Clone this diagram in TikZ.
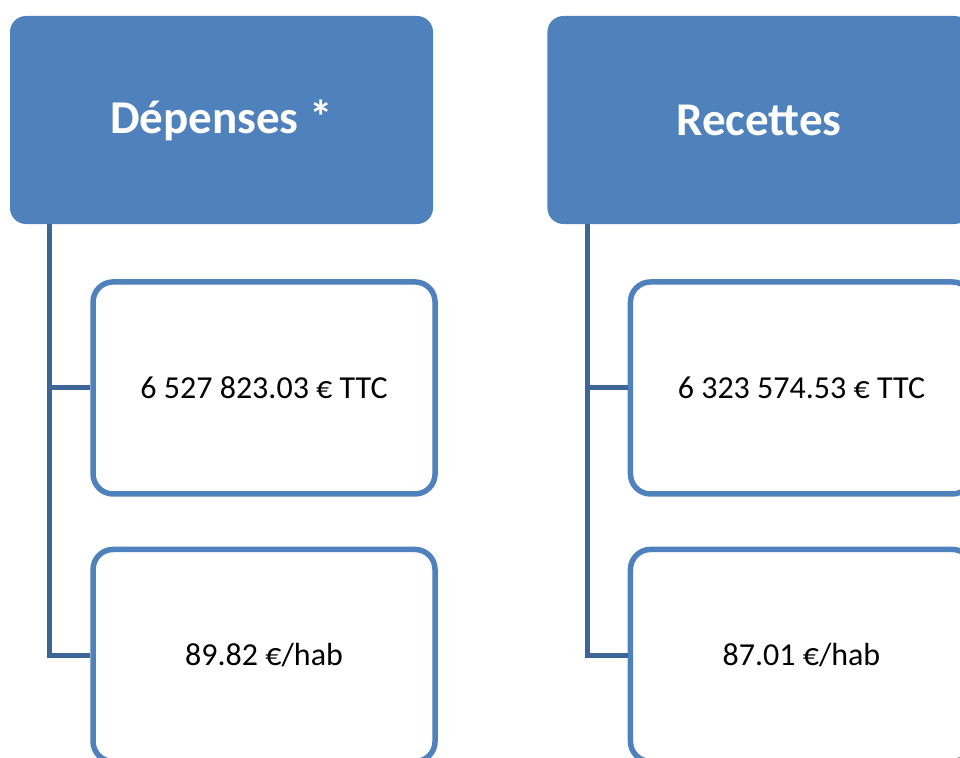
\documentclass[tikz,border=0pt]{standalone}
\usepackage{fontspec}
\setmainfont{Carlito}
\usetikzlibrary{positioning}
\definecolor{headblue}{RGB}{79,129,189}
\definecolor{linkblue}{RGB}{62,101,151}
\tikzstyle{head}=[rectangle, rounded corners=16pt, fill=headblue, text=white, minimum width=423pt, minimum height=208pt, font=\fontsize{47}{56}\selectfont\bfseries]
\tikzstyle{item}=[rectangle, rounded corners=20pt, draw=headblue, line width=5.5pt, fill=white, minimum width=342pt, minimum height=212pt, font=\fontsize{32}{38}\selectfont]
\tikzstyle{link}=[draw=linkblue, line width=5pt]

\begin{document}
\begin{tikzpicture}[x=1pt, y=-1pt]
  \useasboundingbox (0,0) rectangle (960,757);
  \node[head] (dep) at (221.5,120) {Dépenses *};
  \node[head] (rec) [right=114pt of dep] {Recettes};
  \coordinate (dep-c) at ([xshift=40pt]dep.south west);
  \coordinate (rec-c) at ([xshift=40pt]rec.south west);
  \node[item] (dep-ttc) [below right=55pt and 80.5pt of dep.south west] {6 527 823.03 € TTC};
  \node[item] (dep-hab) [below=50pt of dep-ttc] {89.82 €/hab};
  \node[item] (rec-ttc) [below right=55pt and 80.5pt of rec.south west] {6 323 574.53 € TTC};
  \node[item] (rec-hab) [below=50pt of rec-ttc] {87.01 €/hab};
  \draw[link] (dep-c) |- (dep-ttc.west);
  \draw[link] (dep-c) |- (dep-hab.west);
  \draw[link] (rec-c) |- (rec-ttc.west);
  \draw[link] (rec-c) |- (rec-hab.west);
\end{tikzpicture}
\end{document}
